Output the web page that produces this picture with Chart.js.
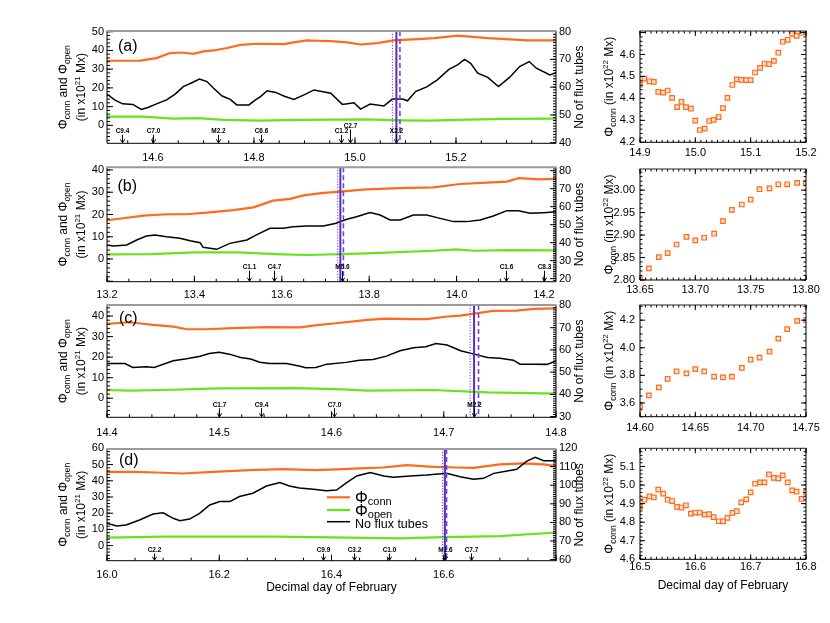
<!DOCTYPE html>
<html>
<head>
<meta charset="utf-8">
<script src="https://cdn.jsdelivr.net/npm/chart.js@4.4.0/dist/chart.umd.min.js"></script>
<style>
  html,body{margin:0;padding:0;background:#ffffff;}
  #wrap{position:relative;width:830px;height:623px;overflow:hidden;background:#fff;}
  #wrap canvas{position:absolute;left:0;top:0;}
</style>
</head>
<body>
<div id="wrap"></div>
<script>
// ---------------- DATA ----------------
// Panel (a)
const A_CONN_T = [14.509,14.574,14.607,14.634,14.657,14.680,14.700,14.720,14.747,14.773,14.806,14.859,14.879,14.905,14.925,14.952,14.985,15.011,15.044,15.077,15.124,15.157,15.204,15.263,15.343,15.400];
const A_CONN   = [34.5,34.6,35.9,38.6,38.9,38.2,39.5,40.0,41.3,43.0,43.6,43.4,44.3,45.4,45.2,45.0,44.3,43.2,43.9,45.4,46.1,46.6,47.9,46.6,45.4,45.4];
const A_OPEN_T = [14.509,14.580,14.640,14.690,14.740,14.810,14.890,14.960,15.020,15.090,15.150,15.200,15.300,15.400];
const A_OPEN   = [4.6,4.6,3.6,3.9,2.9,2.5,2.9,3.0,3.2,2.7,2.5,2.9,3.4,3.6];
const A_FT_T = [14.509,14.524,14.540,14.560,14.577,14.590,14.607,14.627,14.644,14.660,14.677,14.692,14.707,14.720,14.737,14.753,14.766,14.790,14.803,14.813,14.826,14.843,14.859,14.879,14.899,
                14.919,14.952,14.975,14.998,15.011,15.030,15.057,15.074,15.094,15.104,15.120,15.143,15.163,15.186,15.203,15.217,15.229,15.243,15.263,15.284,15.306,15.326,15.345,15.359,15.386,15.400];
const A_FT   = [57.5,55.4,54.0,53.8,52.0,52.7,54.0,55.4,57.5,60.2,61.6,62.9,62.0,59.6,56.8,55.6,53.6,53.6,55.4,56.6,58.7,58.1,56.8,55.6,57.2,
                59.0,57.8,53.8,54.4,52.1,53.9,53.2,55.7,55.7,55.1,58.4,60.2,62.6,66.4,68.0,70.0,68.6,65.0,63.5,60.2,63.5,67.4,69.2,66.8,64.4,65.3];
const A_VLINES = [15.074,15.082,15.089];
const A_FLARE_T = [14.538,14.601,14.728,14.814,14.972,14.991,15.082];
const A_FLARE   = ['C9.4','C7.0','M2.2','C6.6','C1.2','C2.7','X2.2'];
const A_XTICKS = [14.6,14.8,15.0,15.2];
const A_YLTICKS = [0,10,20,30,40,50];
const A_YRTICKS = [40,50,60,70,80];

// Panel (b)
const B_CONN_T = [13.200,13.237,13.283,13.336,13.382,13.428,13.489,13.535,13.580,13.619,13.650,13.690,13.733,13.794,13.870,13.947,14.008,14.069,14.115,14.142,14.191,14.227];
const B_CONN   = [17.4,18.3,19.5,20.1,20.1,20.8,22.0,23.2,26.2,27.0,28.6,29.6,30.3,31.3,31.8,32.2,33.7,34.3,34.8,36.3,35.8,36.0];
const B_OPEN_T = [13.200,13.300,13.400,13.500,13.600,13.660,13.795,13.947,14.000,14.040,14.115,14.227];
const B_OPEN   = [2.1,2.2,3.0,3.0,2.1,1.8,2.5,3.7,4.3,3.7,4.0,3.9];
const B_FT_T = [13.200,13.215,13.245,13.268,13.290,13.310,13.336,13.367,13.390,13.413,13.420,13.451,13.481,13.520,13.542,13.573,13.603,13.626,13.657,13.695,13.722,13.749,13.771,13.802,13.825,13.848,13.871,13.901,13.932,13.962,13.993,14.023,14.054,14.084,14.115,14.142,14.168,14.199,14.227];
const B_FT   = [38.7,38.1,38.7,41.5,43.7,44.3,43.3,42.4,41.1,40.0,37.4,36.3,39.6,41.5,44.3,48.0,48.0,48.9,49.3,49.3,50.7,53.0,54.4,56.7,55.4,52.6,52.6,55.4,55.4,53.5,51.7,51.7,52.6,54.8,57.8,57.8,56.3,56.7,57.2];
const B_VLINES = [13.728,13.734,13.741];
const B_FLARE_T = [13.526,13.582,13.737,14.112,14.200];
const B_FLARE   = ['C1.1','C4.7','M5.6','C1.6','C8.3'];
const B_XTICKS = [13.2,13.4,13.6,13.8,14.0,14.2];
const B_YLTICKS = [0,10,20,30,40];
const B_YRTICKS = [20,30,40,50,60,70,80];

// Panel (c)
const C_CONN_T = [14.400,14.420,14.441,14.459,14.471,14.488,14.512,14.542,14.572,14.589,14.602,14.632,14.649,14.670,14.685,14.703,14.715,14.730,14.744,14.765,14.780,14.800];
const C_CONN   = [36.2,37.0,35.7,34.9,33.6,33.6,34.1,34.6,34.5,35.7,36.4,38.2,38.8,38.5,38.5,39.8,40.2,41.4,42.5,42.7,43.5,43.8];
const C_OPEN_T = [14.400,14.420,14.450,14.500,14.570,14.610,14.632,14.690,14.739,14.800];
const C_OPEN   = [4.0,3.7,4.0,4.8,4.9,4.3,3.7,4.0,2.8,2.2];
const C_FT_T = [14.400,14.416,14.423,14.435,14.442,14.459,14.471,14.483,14.491,14.500,14.509,14.519,14.528,14.536,14.545,14.560,14.572,14.577,14.586,14.596,14.613,14.625,14.637,14.649,14.661,14.673,14.684,14.693,14.703,14.715,14.727,14.739,14.750,14.762,14.768,14.780,14.792,14.800];
const C_FT   = [53.9,53.9,52.1,52.4,52.1,55.1,56.0,57.2,58.4,58.9,58.1,56.6,55.9,54.5,53.9,53.9,52.7,52.0,52.1,53.6,54.4,55.4,55.7,57.2,59.6,61.0,61.4,62.9,62.2,59.6,58.1,56.6,56.2,55.4,53.6,53.6,53.5,55.0];
const C_VLINES = [14.7235,14.727,14.731];
const C_FLARE_T = [14.500,14.537,14.602,14.727];
const C_FLARE   = ['C1.7','C9.4','C7.0','M2.2'];
const C_XTICKS = [14.4,14.5,14.6,14.7,14.8];
const C_YLTICKS = [0,10,20,30,40];
const C_YRTICKS = [30,40,50,60,70,80];

// Panel (d)
const D_CONN_T = [16.000,16.046,16.088,16.135,16.189,16.254,16.314,16.373,16.409,16.450,16.492,16.534,16.582,16.623,16.653,16.700,16.742,16.778,16.800];
const D_CONN   = [45.5,45.5,45.1,44.5,45.5,46.6,47.2,46.6,47.0,47.6,48.2,49.6,48.6,48.2,48.0,50.1,50.7,50.1,49.0];
const D_OPEN_T = [16.000,16.100,16.300,16.400,16.520,16.600,16.700,16.750,16.800];
const D_OPEN   = [4.9,5.5,5.5,5.1,4.5,5.3,5.9,7.0,8.0];
const D_FT_T = [16.000,16.017,16.034,16.058,16.082,16.100,16.118,16.130,16.147,16.165,16.183,16.201,16.219,16.236,16.260,16.284,16.308,16.325,16.343,16.368,16.391,16.409,16.427,16.445,16.469,16.493,16.510,16.540,16.570,16.605,16.629,16.653,16.671,16.689,16.713,16.730,16.748,16.763,16.778,16.800];
const D_FT   = [79.5,78.1,78.6,81.3,84.5,85.2,82.2,80.9,81.8,84.9,89.4,91.2,91.2,93.9,95.7,99.6,101.4,99.6,98.5,97.8,97.1,97.4,101.4,105.0,106.8,105.0,104.3,105.0,105.5,106.4,104.6,103.2,103.7,106.4,107.7,108.6,113.0,115.0,113.2,113.2];
const D_VLINES = [16.598,16.602,16.605];
const D_FLARE_T = [16.084,16.384,16.440,16.502,16.602,16.649];
const D_FLARE   = ['C2.2','C9.9','C3.2','C1.0','M1.6','C7.7'];
const D_XTICKS = [16.0,16.2,16.4,16.6];
const D_YLTICKS = [0,10,20,30,40,50,60];
const D_YRTICKS = [60,70,80,90,100,110,120];

// Right-hand scatter panels (Phi_conn, x10^22 Mx)
const SA_T = [14.900,14.908,14.917,14.925,14.933,14.942,14.950,14.958,14.967,14.975,14.983,14.992,15.000,15.008,15.017,15.025,15.033,15.042,15.050,15.058,15.067,15.075,15.083,15.092,15.100,15.108,15.117,15.125,15.133,15.142,15.150,15.158,15.167,15.175,15.183,15.192,15.200];
const SA_V = [4.463,4.490,4.478,4.475,4.430,4.426,4.436,4.402,4.360,4.384,4.360,4.353,4.299,4.256,4.262,4.297,4.302,4.315,4.356,4.402,4.461,4.487,4.484,4.483,4.483,4.518,4.539,4.559,4.556,4.571,4.608,4.658,4.667,4.694,4.685,4.699,4.702];
const SA_XTICKS = [14.9,15.0,15.1,15.2];
const SA_YTICKS = [4.2,4.3,4.4,4.5,4.6];

const SB_T = [13.650,13.658,13.667,13.675,13.683,13.692,13.700,13.708,13.717,13.725,13.733,13.742,13.750,13.758,13.767,13.775,13.783,13.792,13.800];
const SB_V = [2.802,2.826,2.851,2.860,2.879,2.896,2.888,2.894,2.903,2.931,2.956,2.968,2.979,3.002,3.004,3.013,3.013,3.016,3.016];
const SB_XTICKS = [13.65,13.70,13.75,13.80];
const SB_YTICKS = [2.80,2.85,2.90,2.95,3.00];

const SC_T = [14.600,14.608,14.617,14.625,14.633,14.642,14.650,14.658,14.667,14.675,14.683,14.692,14.700,14.708,14.717,14.725,14.733,14.742,14.750];
const SC_V = [3.576,3.655,3.713,3.775,3.828,3.814,3.845,3.828,3.790,3.785,3.790,3.854,3.914,3.929,3.972,4.066,4.135,4.195,4.200];
const SC_XTICKS = [14.60,14.65,14.70,14.75];
const SC_YTICKS = [3.6,3.8,4.0,4.2];

const SD_T = [16.500,16.508,16.517,16.525,16.533,16.542,16.550,16.558,16.567,16.575,16.583,16.592,16.600,16.608,16.617,16.625,16.633,16.642,16.650,16.658,16.667,16.675,16.683,16.692,16.700,16.708,16.717,16.725,16.733,16.742,16.750,16.758,16.767,16.775,16.783,16.792,16.800];
const SD_V = [4.882,4.921,4.939,4.934,4.975,4.954,4.921,4.914,4.882,4.879,4.891,4.846,4.852,4.852,4.841,4.843,4.827,4.805,4.804,4.823,4.850,4.859,4.907,4.923,4.961,5.007,5.014,5.014,5.057,5.039,5.036,5.052,5.014,4.971,4.964,4.925,4.963];
const SD_XTICKS = [16.5,16.6,16.7,16.8];
const SD_YTICKS = [4.6,4.7,4.8,4.9,5.0,5.1];

const LEGEND_LABELS = [['\u03A6','conn'],['\u03A6','open'],['No flux tubes','']];
const X_TITLE = 'Decimal day of February';

// ---------------- RENDERING ----------------
const FONT = "'Liberation Sans', Arial, Helvetica, sans-serif";
const ORANGE = '#ff6a1c', GREEN = '#66e41a';
const W = 830, H = 623, YW = 40, XH = 30;
Chart.defaults.font.family = FONT;
const wrap = document.getElementById('wrap');

function makeCanvas(){
  const c = document.createElement('canvas');
  c.width = W; c.height = H; c.style.width = W+'px'; c.style.height = H+'px';
  wrap.appendChild(c); return c;
}
function pts(t, v){ return t.map((x,i)=>({x:x, y:v[i]})); }

function axis(o){
  return {
    type:'linear', position:o.pos, min:o.min, max:o.max,
    grid:{display:false, drawTicks:false}, border:{display:false},
    ticks:{padding:o.pad, autoSkip:false, maxRotation:0, minRotation:0, color:'#000',
           font:{family:FONT, size:11}, callback:(v)=>Number(v).toFixed(o.dec)},
    afterBuildTicks:(s)=>{ s.ticks = o.ticks.map(v=>({value:v})); },
    afterFit:(s)=>{
      if (s.isHorizontal()) s.height = o.size; else s.width = o.size;
      s.paddingLeft = 0; s.paddingRight = 0; s.paddingTop = 0; s.paddingBottom = 0;
    }
  };
}

function tickRun(scale, step, cb){
  const s = Math.ceil(scale.min/step - 1e-6), e = Math.floor(scale.max/step + 1e-6);
  for (let i = s; i <= e; i++) cb(scale.getPixelForValue(i*step));
}

function richWidth(ctx, parts){
  let w = 0;
  parts.forEach(p=>{ ctx.font = (p[2]||'')+p[1]+'px '+FONT; w += ctx.measureText(p[0]).width; });
  return w;
}
function drawRich(ctx, parts, x, y, align){
  const w = richWidth(ctx, parts);
  let cx = align === 'center' ? x - w/2 : x;
  parts.forEach(p=>{
    ctx.font = (p[2]||'')+p[1]+'px '+FONT;
    ctx.fillText(p[0], cx, y + (p[3]||0));
    cx += ctx.measureText(p[0]).width;
  });
}
function drawRotated(ctx, parts, cx, cy){
  ctx.save(); ctx.translate(cx, cy); ctx.rotate(-Math.PI/2);
  ctx.textBaseline = 'alphabetic'; ctx.textAlign = 'left'; ctx.fillStyle = '#000';
  drawRich(ctx, parts, 0, 4, 'center');
  ctx.restore();
}

function framePlugin(sp){
  return {
    id:'frame',
    afterDraw(chart){
      const ctx = chart.ctx, a = chart.chartArea, sx = chart.scales.x;
      const yl = chart.scales.y, yr = chart.scales.y1 || chart.scales.y;
      ctx.save();
      // vertical event lines
      if (sp.vlines){
        const st = [{c:'#5840d8',w:1,d:[1.2,1.6]},{c:'#5a2cc0',w:2,d:[]},{c:'#6b46e0',w:1.6,d:[5,3]}];
        sp.vlines.forEach((t,i)=>{
          const px = sx.getPixelForValue(t);
          ctx.beginPath(); ctx.setLineDash(st[i].d); ctx.strokeStyle = st[i].c; ctx.lineWidth = st[i].w;
          ctx.moveTo(px, a.top); ctx.lineTo(px, a.bottom); ctx.stroke();
        });
        ctx.setLineDash([]);
      }
      // flare markers
      if (sp.flares){
        ctx.fillStyle = '#000'; ctx.strokeStyle = '#000'; ctx.lineWidth = 1;
        ctx.font = 'bold 6.5px '+FONT; ctx.textAlign = 'center'; ctx.textBaseline = 'alphabetic';
        sp.flares[0].forEach((t,i)=>{
          const px = Math.round(sx.getPixelForValue(t)) + 0.5;
          const base = a.bottom - sp.flareDy - ((sp.lift && sp.lift[i]) || 0);
          ctx.fillText(sp.flares[1][i], px, base);
          ctx.beginPath();
          ctx.moveTo(px, base + 1.5); ctx.lineTo(px, a.bottom - 0.5);
          ctx.moveTo(px - 2.2, a.bottom - 4); ctx.lineTo(px, a.bottom - 0.5); ctx.lineTo(px + 2.2, a.bottom - 4);
          ctx.stroke();
        });
      }
      // ticks
      ctx.strokeStyle = '#000'; ctx.lineWidth = 1;
      ctx.beginPath();
      const M = sp.majLen, m = sp.minLen;
      tickRun(sx, sp.xMinor, p=>{ ctx.moveTo(p, a.bottom); ctx.lineTo(p, a.bottom - m); });
      tickRun(sx, sp.xMajor, p=>{ ctx.moveTo(p, a.bottom); ctx.lineTo(p, a.bottom - M); });
      if (sp.topTicks){
        tickRun(sx, sp.xMinor, p=>{ ctx.moveTo(p, a.top); ctx.lineTo(p, a.top + m); });
        tickRun(sx, sp.xMajor, p=>{ ctx.moveTo(p, a.top); ctx.lineTo(p, a.top + M); });
      }
      tickRun(yl, sp.ylMinor, p=>{ ctx.moveTo(a.left, p); ctx.lineTo(a.left + m, p); });
      tickRun(yl, sp.ylMajor, p=>{ ctx.moveTo(a.left, p); ctx.lineTo(a.left + M, p); });
      tickRun(yr, sp.yrMinor, p=>{ ctx.moveTo(a.right, p); ctx.lineTo(a.right - m, p); });
      tickRun(yr, sp.yrMajor, p=>{ ctx.moveTo(a.right, p); ctx.lineTo(a.right - M, p); });
      ctx.stroke();
      // box
      ctx.beginPath(); ctx.strokeStyle = '#000'; ctx.lineWidth = 1;
      ctx.moveTo(a.left, a.top); ctx.lineTo(a.left, a.bottom); ctx.lineTo(a.right, a.bottom); ctx.lineTo(a.right, a.top);
      ctx.stroke();
      ctx.beginPath(); ctx.strokeStyle = sp.topColor; ctx.lineWidth = sp.topWidth;
      ctx.moveTo(a.left - 0.5, a.top); ctx.lineTo(a.right + 0.5, a.top); ctx.stroke();
      if (sp.extra) sp.extra(ctx, a);
      ctx.restore();
    }
  };
}

function mainPanel(p){
  const b = p.box;
  const sp = {vlines:p.vl, flares:p.fl, flareDy:p.flareDy, lift:p.lift, majLen:6, minLen:3,
    xMajor:p.xMajor, xMinor:p.xMinor, ylMajor:10, ylMinor:2, yrMajor:10, yrMinor:1,
    topTicks:false, topColor:'#9a9a9a', topWidth:2,
    extra:(ctx, a)=>{
      const cy = (a.top + a.bottom)/2;
      drawRotated(ctx, [['\u03A6',12.5],['conn',8.5,'',3],[' and ',12],['\u03A6',12.5],['open',8.5,'',3]], 63, cy);
      drawRotated(ctx, [['(in x10',12],['21',8,'',-5],[' Mx)',12]], 80.5, cy);
      drawRotated(ctx, [['No of flux tubes',12]], 578.5, cy);
      ctx.fillStyle = '#000'; ctx.textAlign = 'left'; ctx.textBaseline = 'alphabetic';
      ctx.font = '16px '+FONT; ctx.fillText(p.label, p.labelX, p.labelY);
      if (p.legend){
        const items = [[ORANGE, 497.3, 503], [GREEN, 510, 516], ['#000', 521.7, 528.3]];
        items.forEach((it,i)=>{
          ctx.beginPath(); ctx.strokeStyle = it[0]; ctx.lineWidth = i===2 ? 1.5 : 2.2;
          ctx.moveTo(327, it[1]); ctx.lineTo(350, it[1]); ctx.stroke();
          const lab = LEGEND_LABELS[i];
          if (i < 2) drawRich(ctx, [[lab[0],16],[lab[1],11,'',2]], 355, it[2], 'left');
          else drawRich(ctx, [[lab[0],12.5]], 355, it[2], 'left');
        });
      }
      if (p.xtitle){
        ctx.textAlign = 'center'; ctx.font = '12px '+FONT;
        ctx.fillText(X_TITLE, (a.left + a.right)/2, 591);
      }
    }};
  new Chart(makeCanvas(), {
    type:'line',
    data:{datasets:[
      {data:pts(p.ft[0], p.ft[1]), yAxisID:'y1', borderColor:'#000', borderWidth:1.5, pointRadius:0, tension:0, fill:false, clip:0},
      {data:pts(p.conn[0], p.conn[1]), yAxisID:'y', borderColor:ORANGE, borderWidth:2.2, pointRadius:0, tension:0, fill:false, clip:0},
      {data:pts(p.open[0], p.open[1]), yAxisID:'y', borderColor:GREEN, borderWidth:2.2, pointRadius:0, tension:0, fill:false, clip:0}
    ]},
    options:{
      responsive:false, animation:false, events:[], devicePixelRatio:1,
      layout:{padding:{left:b[0]-YW, right:W-b[2]-YW, top:b[1], bottom:H-b[3]-XH}},
      scales:{
        x: axis({pos:'bottom', min:p.x[0], max:p.x[1], ticks:p.xt, dec:1, pad:p.xpad, size:XH}),
        y: axis({pos:'left', min:p.yl[0], max:p.yl[1], ticks:p.ylt, dec:0, pad:3, size:YW}),
        y1: axis({pos:'right', min:p.yr[0], max:p.yr[1], ticks:p.yrt, dec:0, pad:3, size:YW})
      },
      plugins:{legend:{display:false}, tooltip:{enabled:false}}
    },
    plugins:[framePlugin(sp)]
  });
}

function scatterPanel(p){
  const b = p.box;
  const sp = {majLen:5, minLen:2.5, xMajor:p.xMajor, xMinor:p.xMinor, ylMajor:p.yMajor, ylMinor:p.yMinor,
    yrMajor:p.yMajor, yrMinor:p.yMinor, topTicks:true, topColor:'#222', topWidth:1,
    extra:(ctx, a)=>{
      const cy = (a.top + a.bottom)/2;
      drawRotated(ctx, [['\u03A6',12.5],['conn',8.5,'',3],[' (in x10',12],['22',8,'',-5],[' Mx)',12]], 608.5, cy);
      if (p.xtitle){
        ctx.fillStyle = '#000'; ctx.textAlign = 'center'; ctx.textBaseline = 'alphabetic'; ctx.font = '12px '+FONT;
        ctx.fillText(X_TITLE, (a.left + a.right)/2, 589);
      }
    }};
  new Chart(makeCanvas(), {
    type:'scatter',
    data:{datasets:[{data:pts(p.t, p.v), pointStyle:'rect', pointRadius:3.2, borderWidth:1.2,
      borderColor:ORANGE, backgroundColor:'#ffe3cf', showLine:false, clip:0}]},
    options:{
      responsive:false, animation:false, events:[], devicePixelRatio:1,
      layout:{padding:{left:b[0]-YW, right:W-b[2], top:b[1], bottom:H-b[3]-XH}},
      scales:{
        x: axis({pos:'bottom', min:p.x[0], max:p.x[1], ticks:p.xt, dec:p.xd, pad:p.xpad, size:XH}),
        y: axis({pos:'left', min:p.y[0], max:p.y[1], ticks:p.yt, dec:p.yd, pad:5, size:YW})
      },
      plugins:{legend:{display:false}, tooltip:{enabled:false}}
    },
    plugins:[framePlugin(sp)]
  });
}

mainPanel({box:[107,31,556,143.3], x:[14.509,15.398], yl:[-9.6,50.4], yr:[39.8,80.2], xt:A_XTICKS, ylt:A_YLTICKS, yrt:A_YRTICKS,
  xMajor:0.2, xMinor:0.05, xpad:7.6, conn:[A_CONN_T,A_CONN], open:[A_OPEN_T,A_OPEN], ft:[A_FT_T,A_FT],
  vl:A_VLINES, fl:[A_FLARE_T,A_FLARE], flareDy:10, lift:{5:5.3}, label:'(a)', labelX:118, labelY:50.5});
mainPanel({box:[107,167.3,556,281.7], x:[13.2,14.2275], yl:[-10.2,41.2], yr:[18.3,81.9], xt:B_XTICKS, ylt:B_YLTICKS, yrt:B_YRTICKS,
  xMajor:0.2, xMinor:0.05, xpad:6.9, conn:[B_CONN_T,B_CONN], open:[B_OPEN_T,B_OPEN], ft:[B_FT_T,B_FT],
  vl:B_VLINES, fl:[B_FLARE_T,B_FLARE], flareDy:12.4, label:'(b)', labelX:117.5, labelY:191});
mainPanel({box:[107,305,556,417.3], x:[14.4,14.8], yl:[-9.3,45.4], yr:[29.7,80.2], xt:C_XTICKS, ylt:C_YLTICKS, yrt:C_YRTICKS,
  xMajor:0.1, xMinor:0.02, xpad:8.6, conn:[C_CONN_T,C_CONN], open:[C_OPEN_T,C_OPEN], ft:[C_FT_T,C_FT],
  vl:C_VLINES, fl:[C_FLARE_T,C_FLARE], flareDy:10.6, label:'(c)', labelX:119, labelY:323});
mainPanel({box:[107,449,556,560.7], x:[16.0,16.8], yl:[-9.3,59.6], yr:[59.4,119.5], xt:D_XTICKS, ylt:D_YLTICKS, yrt:D_YRTICKS,
  xMajor:0.2, xMinor:0.05, xpad:7.7, conn:[D_CONN_T,D_CONN], open:[D_OPEN_T,D_OPEN], ft:[D_FT_T,D_FT],
  vl:D_VLINES, fl:[D_FLARE_T,D_FLARE], flareDy:8.7, label:'(d)', labelX:119, labelY:465, legend:true, xtitle:true});

scatterPanel({box:[640,31,806,142.3], x:[14.9,15.2], y:[4.2,4.707], xt:SA_XTICKS, yt:SA_YTICKS, xd:1, yd:1,
  xMajor:0.1, xMinor:0.01, yMajor:0.1, yMinor:0.02, xpad:4.4, t:SA_T, v:SA_V});
scatterPanel({box:[640,169,806,280], x:[13.65,13.80], y:[2.80,3.047], xt:SB_XTICKS, yt:SB_YTICKS, xd:2, yd:2,
  xMajor:0.05, xMinor:0.005, yMajor:0.05, yMinor:0.01, xpad:3.4, t:SB_T, v:SB_V});
scatterPanel({box:[640,305,806,416.7], x:[14.60,14.75], y:[3.50,4.31], xt:SC_XTICKS, yt:SC_YTICKS, xd:2, yd:1,
  xMajor:0.05, xMinor:0.005, yMajor:0.2, yMinor:0.05, xpad:4.2, t:SC_T, v:SC_V});
scatterPanel({box:[640,448.3,806,559.3], x:[16.5,16.8], y:[4.60,5.198], xt:SD_XTICKS, yt:SD_YTICKS, xd:1, yd:1,
  xMajor:0.1, xMinor:0.01, yMajor:0.1, yMinor:0.02, xpad:1.5, t:SD_T, v:SD_V, xtitle:true});
</script>
</body>
</html>
